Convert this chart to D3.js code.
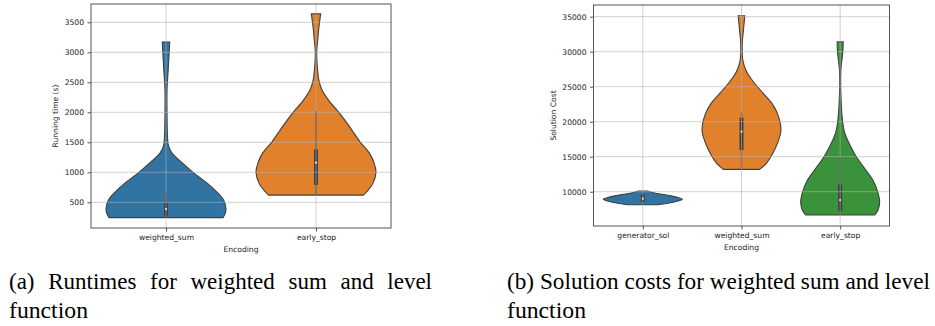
<!DOCTYPE html>
<html>
<head>
<meta charset="utf-8">
<script src="https://cdn.jsdelivr.net/npm/d3@7"></script>
<style>
  html, body { margin: 0; padding: 0; background: #fff; }
  svg { display: block; }
</style>
</head>
<body>
<svg id="chart" width="935" height="326"></svg>
<script>
// ---- panel (a): running times ----
const runCategories = ['weighted_sum', 'early_stop'];
const runTicks = [500, 1000, 1500, 2000, 2500, 3000, 3500];
// violin outlines: value -> relative half width (0..1)
const runWsValues = [245, 300, 385, 540, 790, 1000, 1150, 1320, 1450, 1600, 2000, 2400, 2600, 2800, 3000, 3170];
const runWsWidths = [0.95, 0.98, 1.0, 0.96, 0.72, 0.45, 0.28, 0.1, 0.04, 0.025, 0.017, 0.018, 0.03, 0.042, 0.053, 0.062];
const runEsValues = [620, 680, 820, 1000, 1150, 1320, 1500, 1700, 1870, 2000, 2200, 2370, 2540, 2760, 3010, 3200, 3430, 3640];
const runEsWidths = [0.79, 0.85, 0.95, 1.0, 0.97, 0.89, 0.74, 0.6, 0.48, 0.38, 0.21, 0.1, 0.047, 0.022, 0.012, 0.028, 0.05, 0.078];
// box stats: [whisker low, q1, median, q3, whisker high]
const runWsBox = [245, 262, 388, 500, 655];
const runEsBox = [620, 790, 1160, 1383, 2020];

// ---- panel (b): solution costs ----
const costCategories = ['generator_sol', 'weighted_sum', 'early_stop'];
const costTicks = [10000, 15000, 20000, 25000, 30000, 35000];
const costGsValues = [8140, 8530, 8910, 9530, 9810, 10100];
const costGsWidths = [0.38, 0.8, 1.0, 0.6, 0.3, 0.12];
const costWsValues = [13190, 14050, 15240, 16900, 18810, 21190, 22620, 24050, 25710, 27140, 28810, 31190, 33570, 35140];
const costWsWidths = [0.46, 0.63, 0.77, 0.91, 1.0, 0.91, 0.77, 0.55, 0.3, 0.13, 0.033, 0.02, 0.058, 0.084];
const costEsValues = [6670, 7380, 8570, 10000, 11430, 13100, 15000, 16430, 18340, 20240, 25000, 27400, 30000, 31430];
const costEsWidths = [0.87, 0.96, 1.0, 0.95, 0.85, 0.65, 0.41, 0.27, 0.12, 0.058, 0.013, 0.018, 0.068, 0.076];
const costGsBox = [8140, 8530, 9000, 9670, 10000];
const costWsBox = [13190, 15950, 18570, 20570, 21330];
const costEsBox = [6670, 7240, 8810, 11050, 15000];

const colours = ['#3274a1', '#e1812c', '#3a923a'];

const svg = d3.select('#chart');
const ink = '#3f3f3f';
const font = "'DejaVu Sans', sans-serif";

function drawPanel(cfg) {
  const g = svg.append('g');

  const x = d3.scalePoint().domain(cfg.categories).range([cfg.left, cfg.right]).padding(0.5);
  const y = d3.scaleLinear().domain(cfg.domain).range([cfg.bottom, cfg.top]);
  const halfMax = x.step() * 0.4;
  const w = d3.scaleLinear().domain([0, 1]).range([0, halfMax]);

  cfg.violins.forEach((v, i) => {
    const cx = x(cfg.categories[i]);
    const pts = v.values.map((val, k) => ({ v: val, d: v.widths[k] }));

    const area = d3.area()
      .y((d) => y(d.v))
      .x0((d) => cx - w(d.d))
      .x1((d) => cx + w(d.d))
      .curve(d3.curveCatmullRom.alpha(0.5));

    g.append('path')
      .datum(pts)
      .attr('d', area)
      .attr('fill', colours[i])
      .attr('stroke', ink)
      .attr('stroke-width', 1.1);

    const [lo, q1, med, q3, hi] = v.box;
    g.append('line')
      .attr('x1', cx).attr('x2', cx)
      .attr('y1', y(lo)).attr('y2', y(hi))
      .attr('stroke', ink)
      .attr('stroke-width', 1.2);
    g.append('rect')
      .attr('x', cx - 2)
      .attr('width', 4)
      .attr('y', y(q3))
      .attr('height', y(q1) - y(q3))
      .attr('fill', ink);
    g.append('circle')
      .attr('cx', cx)
      .attr('cy', y(med))
      .attr('r', 1.1)
      .attr('fill', '#fff');
  });

  // grid sits over the violins, semi transparent
  const grid = g.append('g')
    .attr('stroke', '#b0b0b0')
    .attr('stroke-opacity', 0.6)
    .attr('stroke-width', 1);
  cfg.ticks.forEach((t) => {
    grid.append('line')
      .attr('x1', cfg.left).attr('x2', cfg.right)
      .attr('y1', y(t)).attr('y2', y(t));
  });
  cfg.categories.forEach((c) => {
    grid.append('line')
      .attr('x1', x(c)).attr('x2', x(c))
      .attr('y1', cfg.top).attr('y2', cfg.bottom);
  });

  g.append('rect')
    .attr('x', cfg.left)
    .attr('y', cfg.top)
    .attr('width', cfg.right - cfg.left)
    .attr('height', cfg.bottom - cfg.top)
    .attr('fill', 'none')
    .attr('stroke', '#555')
    .attr('stroke-width', 1);

  const yAxis = d3.axisLeft(y).tickValues(cfg.ticks).tickSize(3.5).tickPadding(3.5).tickFormat(d3.format('d'));
  const xAxis = d3.axisBottom(x).tickSize(3.5).tickPadding(3);

  g.append('g')
    .attr('transform', `translate(${cfg.left},0)`)
    .call(yAxis)
    .call((a) => a.select('.domain').remove());
  g.append('g')
    .attr('transform', `translate(0,${cfg.bottom})`)
    .call(xAxis)
    .call((a) => a.select('.domain').remove());

  g.selectAll('.tick line').attr('stroke', '#555');
  g.selectAll('.tick text')
    .attr('fill', '#222')
    .style('font-family', font)
    .style('font-size', '7.6px');

  g.append('text')
    .attr('transform', `translate(${cfg.yLabelX},${(cfg.top + cfg.bottom) / 2}) rotate(-90)`)
    .attr('text-anchor', 'middle')
    .attr('dy', '0.35em')
    .attr('fill', '#222')
    .style('font-family', font)
    .style('font-size', '7.6px')
    .text(cfg.yLabel);

  g.append('text')
    .attr('x', (cfg.left + cfg.right) / 2)
    .attr('y', cfg.bottom + 24)
    .attr('text-anchor', 'middle')
    .attr('fill', '#222')
    .style('font-family', font)
    .style('font-size', '7.6px')
    .text('Encoding');
}

drawPanel({
  categories: runCategories,
  ticks: runTicks,
  domain: [72, 3805],
  left: 91, right: 391, top: 4, bottom: 228,
  yLabel: 'Running time (s)', yLabelX: 55,
  violins: [
    { values: runWsValues, widths: runWsWidths, box: runWsBox },
    { values: runEsValues, widths: runEsWidths, box: runEsBox },
  ],
});

drawPanel({
  categories: costCategories,
  ticks: costTicks,
  domain: [5100, 36670],
  left: 593.5, right: 889.5, top: 5, bottom: 226,
  yLabel: 'Solution Cost', yLabelX: 553,
  violins: [
    { values: costGsValues, widths: costGsWidths, box: costGsBox },
    { values: costWsValues, widths: costWsWidths, box: costWsBox },
    { values: costEsValues, widths: costEsWidths, box: costEsBox },
  ],
});

// captions
const capFont = "'Liberation Serif', 'Times New Roman', serif";
function caption(x, y, width, line1, line2, justify) {
  const t = svg.append('text')
    .attr('x', x).attr('y', y)
    .attr('fill', '#000')
    .style('font-family', capFont)
    .style('font-size', '23px')
    .text(line1);
  if (justify) {
    const natural = t.node().getComputedTextLength();
    const gaps = line1.split(' ').length - 1;
    t.attr('word-spacing', (width - natural) / gaps);
  } else {
    t.attr('textLength', width).attr('lengthAdjust', 'spacingAndGlyphs');
  }
  svg.append('text')
    .attr('x', x).attr('y', y + 29)
    .attr('fill', '#000')
    .style('font-family', capFont)
    .style('font-size', '23px')
    .attr('textLength', 79)
    .attr('lengthAdjust', 'spacingAndGlyphs')
    .text(line2);
}

caption(9, 289, 423, '(a) Runtimes for weighted sum and level', 'function', true);
caption(507, 289, 423, '(b) Solution costs for weighted sum and level', 'function', false);
</script>
</body>
</html>
